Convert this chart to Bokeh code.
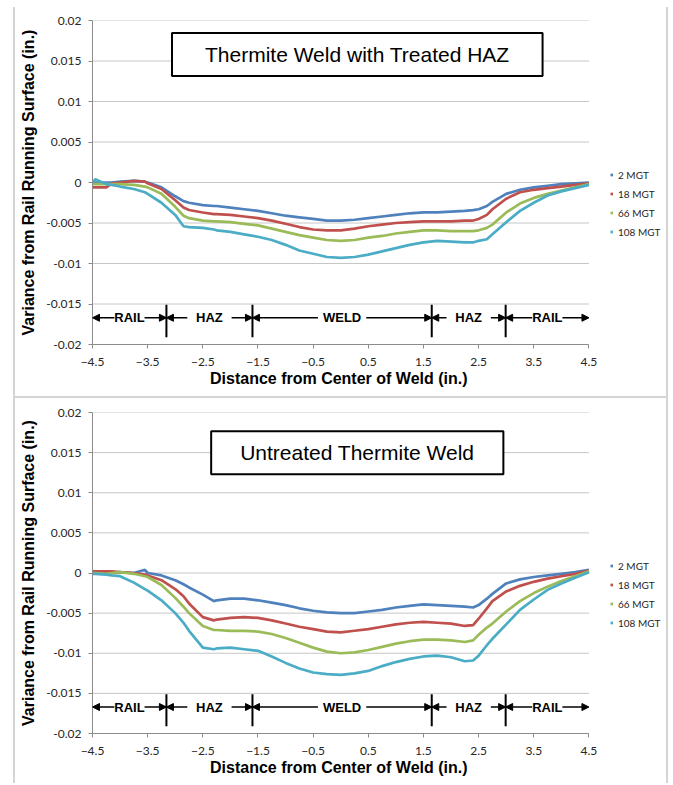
from bokeh.plotting import figure
from bokeh.models import (FixedTicker, CustomJSTickFormatter, Label, Legend, LegendItem,
                          Arrow, NormalHead, Range1d, ColumnDataSource, Title)
from bokeh.layouts import column
from bokeh.core.properties import value
from bokeh.embed import file_html
from bokeh.resources import INLINE

# ---------------- data ----------------
series_names = ["2 MGT", "18 MGT", "66 MGT", "108 MGT"]

dist = [-4.5, -4.45, -4.25, -4.15, -4.0, -3.75, -3.55, -3.5, -3.25, -3.0, -2.85, -2.75,
        -2.5, -2.3, -2.25, -2.0, -1.75, -1.5, -1.25, -1.0, -0.75, -0.5, -0.25, 0.0,
        0.25, 0.5, 0.75, 1.0, 1.25, 1.5, 1.75, 2.0, 2.25, 2.4, 2.5, 2.65, 2.75, 3.0,
        3.25, 3.5, 3.75, 4.0, 4.25, 4.5]

# Panel 1: Thermite Weld with Treated HAZ
treated_2 = [0.0, 0.0, 0.0, 0.0, 0.0001, 0.0002, 0.0001, 0.0, -0.0006, -0.0017, -0.0023, -0.0025,
             -0.0028, -0.0029, -0.0029, -0.0031, -0.0033, -0.0035, -0.0038, -0.0041, -0.0043, -0.0045, -0.0047, -0.0047,
             -0.0046, -0.0044, -0.0042, -0.0040, -0.0038, -0.0037, -0.0037, -0.0036, -0.0035, -0.0034, -0.0033, -0.0029, -0.0024, -0.0014,
             -0.0009, -0.0006, -0.0004, -0.0002, -0.0001, 0.0]
treated_18 = [-0.0006, -0.0006, -0.0006, -0.0001, 0.0, 0.0002, 0.0001, -0.0001, -0.0008, -0.0022, -0.0031, -0.0034,
              -0.0037, -0.0039, -0.0039, -0.0040, -0.0042, -0.0044, -0.0047, -0.0051, -0.0055, -0.0058, -0.0059, -0.0059,
              -0.0057, -0.0054, -0.0052, -0.0050, -0.0049, -0.0048, -0.0048, -0.0048, -0.0047, -0.0047, -0.0045, -0.0040, -0.0033, -0.0020,
              -0.0012, -0.0009, -0.0007, -0.0005, -0.0003, -0.0001]
treated_66 = [-0.0002, -0.0002, -0.0002, -0.0002, -0.0002, -0.0003, -0.0005, -0.0006, -0.0014, -0.0030, -0.0041, -0.0044,
              -0.0047, -0.0048, -0.0048, -0.0049, -0.0051, -0.0053, -0.0057, -0.0061, -0.0065, -0.0068, -0.0071, -0.0072,
              -0.0071, -0.0068, -0.0066, -0.0063, -0.0061, -0.0059, -0.0059, -0.0060, -0.0060, -0.0060, -0.0059, -0.0056, -0.0052, -0.0037,
              -0.0026, -0.0019, -0.0014, -0.0010, -0.0006, -0.0002]
treated_108 = [0.0, 0.0004, -0.0002, -0.0003, -0.0005, -0.0008, -0.0012, -0.0014, -0.0025, -0.0040, -0.0054, -0.0055,
               -0.0056, -0.0058, -0.0059, -0.0061, -0.0064, -0.0067, -0.0071, -0.0077, -0.0084, -0.0088, -0.0092, -0.0093,
               -0.0092, -0.0089, -0.0085, -0.0081, -0.0077, -0.0074, -0.0072, -0.0073, -0.0074, -0.0074, -0.0072, -0.0070, -0.0064, -0.0049,
               -0.0035, -0.0025, -0.0016, -0.0011, -0.0007, -0.0003]

# Panel 2: Untreated Thermite Weld
untreated_2 = [0.0, 0.0, 0.0, 0.0, 0.0001, 0.0, 0.0004, 0.0, -0.0003, -0.0009, -0.0014, -0.0018,
               -0.0027, -0.0035, -0.0034, -0.0032, -0.0032, -0.0034, -0.0037, -0.0040, -0.0044, -0.0047, -0.0049, -0.0050,
               -0.0050, -0.0048, -0.0046, -0.0043, -0.0041, -0.0039, -0.0040, -0.0041, -0.0042, -0.0043, -0.0040, -0.0032, -0.0026, -0.0013,
               -0.0008, -0.0005, -0.0003, -0.0001, 0.0001, 0.0004]
untreated_18 = [0.0002, 0.0002, 0.0002, 0.0002, 0.0001, 0.0, -0.0002, -0.0003, -0.0009, -0.0020, -0.0029, -0.0038,
                -0.0055, -0.0059, -0.0058, -0.0056, -0.0055, -0.0056, -0.0059, -0.0063, -0.0067, -0.0070, -0.0073, -0.0074,
                -0.0072, -0.0070, -0.0067, -0.0064, -0.0062, -0.0061, -0.0062, -0.0063, -0.0066, -0.0065, -0.0057, -0.0044, -0.0035, -0.0023,
                -0.0016, -0.0011, -0.0007, -0.0004, -0.0001, 0.0003]
untreated_66 = [0.0, 0.0, -0.0001, 0.0, 0.0001, -0.0001, -0.0004, -0.0005, -0.0015, -0.0031, -0.0042, -0.0050,
                -0.0066, -0.0071, -0.0071, -0.0072, -0.0072, -0.0073, -0.0076, -0.0081, -0.0087, -0.0093, -0.0098, -0.0100,
                -0.0099, -0.0096, -0.0092, -0.0088, -0.0085, -0.0083, -0.0083, -0.0084, -0.0086, -0.0084, -0.0077, -0.0068, -0.0063, -0.0048,
                -0.0035, -0.0025, -0.0017, -0.0010, -0.0004, 0.0002]
untreated_108 = [-0.0001, -0.0001, -0.0002, -0.0003, -0.0004, -0.0012, -0.0020, -0.0022, -0.0034, -0.0050, -0.0062, -0.0072,
                 -0.0093, -0.0095, -0.0094, -0.0093, -0.0095, -0.0097, -0.0104, -0.0112, -0.0119, -0.0124, -0.0126, -0.0127,
                 -0.0125, -0.0122, -0.0116, -0.0111, -0.0107, -0.0104, -0.0103, -0.0105, -0.0110, -0.0109, -0.0103, -0.0090, -0.0082, -0.0064,
                 -0.0046, -0.0033, -0.0021, -0.0013, -0.0006, 0.0001]

x_ticks = [-4.5, -3.5, -2.5, -1.5, -0.5, 0.5, 1.5, 2.5, 3.5, 4.5]
y_ticks = [-0.02, -0.015, -0.01, -0.005, 0.0, 0.005, 0.01, 0.015, 0.02]

zone_bounds = [-4.5, -3.16, -1.60, 1.65, 2.99, 4.5]
zone_labels = ["RAIL", "HAZ", "WELD", "HAZ", "RAIL"]
zone_level = -0.0167

titles = ["Thermite Weld with Treated HAZ", "Untreated Thermite Weld"]
x_label = "Distance from Center of Weld (in.)"
y_label = "Variance from Rail Running Surface (in.)"

# ---------------- styling / layout ----------------
COLORS = ["#4F81BD", "#C0504D", "#9BBB59", "#4BACC6"]
CONTENT_W = 651                 # canvas width inside the grey panel borders
BORDER_L, BORDER_R = 77, 2
AXIS_W = 493                    # pixel width of the -4.5 .. 4.5 axis
FRAME_W = CONTENT_W - BORDER_L - BORDER_R
X_MIN, X_MAX = x_ticks[0], x_ticks[-1]
PX_PER_UNIT = AXIS_W / (X_MAX - X_MIN)
X_END = X_MIN + FRAME_W / PX_PER_UNIT   # frame extends right to hold the legend
XLABEL_W = 258                  # rendered width of the x-axis title (16px bold)
GAP_PX = {"RAIL": 15, "HAZ": 22, "WELD": 24}
PANEL_LINE = "2px solid #d4d4d4"


def make_panel(title, ys, width, height, top, bottom, title_y, title_pad, legend_y,
               margin, styles):
    p = figure(width=width, height=height, output_backend="svg", toolbar_location=None,
               x_range=Range1d(X_MIN, X_END), y_range=Range1d(-0.02, 0.02),
               min_border_left=BORDER_L, min_border_right=BORDER_R,
               min_border_top=top, min_border_bottom=bottom,
               margin=margin, styles=styles)
    p.outline_line_color = None
    p.background_fill_color = "white"
    p.border_fill_color = "white"

    # axes
    p.xaxis.ticker = FixedTicker(ticks=x_ticks)
    p.xaxis.bounds = (X_MIN, X_MAX)
    p.yaxis.ticker = FixedTicker(ticks=y_ticks)
    p.yaxis.formatter = CustomJSTickFormatter(
        code="return tick.toFixed(3).replace(/0+$/, '').replace(/\\.$/, '');")
    for ax in (p.xaxis, p.yaxis):
        ax.axis_line_color = "#8c8c8c"
        ax.major_tick_line_color = "#8c8c8c"
        ax.major_tick_out = 4
        ax.major_tick_in = 0
        ax.minor_tick_line_color = None
        ax.major_label_text_font = "Lato"
        ax.major_label_text_font_size = "12px"
        ax.major_label_text_color = "#262626"
        ax.axis_label_text_font = "Liberation Sans"
        ax.axis_label_text_font_style = "bold"
        ax.axis_label_text_font_size = "16px"
        ax.axis_label_text_color = "black"
    p.yaxis.axis_label = y_label
    p.xaxis.major_label_standoff = 9
    p.yaxis.major_label_standoff = 7
    p.yaxis.axis_label_standoff = 6

    # x-axis title centred under the -4.5 .. 4.5 span
    p.add_layout(Title(text=x_label, align="left", offset=(AXIS_W - XLABEL_W) / 2,
                       standoff=3, vertical_align="top",
                       text_font="Liberation Sans", text_font_style="bold",
                       text_font_size="16px", text_color="black"), "below")

    # horizontal gridlines only across the -4.5 .. 4.5 span
    p.xgrid.grid_line_color = None
    p.ygrid.grid_line_color = None
    p.segment(x0=[X_MIN] * len(y_ticks), x1=[X_MAX] * len(y_ticks), y0=y_ticks, y1=y_ticks,
              line_color="#c6c6c6", line_width=1, level="underlay")

    # series
    rends = []
    for y, c in zip(ys, COLORS):
        rends.append(p.line(dist, y, line_color=c, line_width=2.7))

    # legend (tiny marker-like swatches)
    legend = Legend(items=[LegendItem(label=n, renderers=[r]) for n, r in zip(series_names, rends)],
                    location=(AXIS_W + 25, legend_y),
                    border_line_color=None, background_fill_alpha=0,
                    padding=0, margin=0, spacing=0,
                    glyph_width=3, glyph_height=19, label_height=19, label_standoff=5,
                    label_text_font="Lato", label_text_font_size="10px",
                    label_text_color="#262626")
    p.add_layout(legend)

    # zone annotations
    centers = [(zone_bounds[i] + zone_bounds[i + 1]) / 2 for i in range(len(zone_labels))]
    xs0, xs1 = [], []
    for i, lab in enumerate(zone_labels):
        g = GAP_PX[lab] / PX_PER_UNIT
        xs0 += [centers[i] - g, centers[i] + g]
        xs1 += [zone_bounds[i], zone_bounds[i + 1]]
    arr_src = ColumnDataSource(dict(x0=xs0, x1=xs1, y=[zone_level] * len(xs0)))
    p.add_layout(Arrow(end=NormalHead(size=7, fill_color="black", line_color="black"),
                       x_start="x0", y_start="y", x_end="x1", y_end="y",
                       line_color="black", line_width=1.6, source=arr_src))
    inner = zone_bounds[1:-1]
    p.segment(x0=inner, x1=inner, y0=[zone_level + 0.0016] * len(inner),
              y1=[zone_level - 0.0024] * len(inner), line_color="black", line_width=2)
    p.text(x=centers, y=[zone_level] * len(centers), text=zone_labels,
           text_align="center", text_baseline="middle",
           text_font=value("Liberation Sans"), text_font_style="bold",
           text_font_size="13px", text_color="black")

    # boxed title
    p.add_layout(Label(x=0.3, y=title_y, text=title, text_align="center",
                       text_baseline="middle", text_font="Liberation Sans",
                       text_font_size="21px", text_color="black",
                       background_fill_color="white", border_line_color="black",
                       border_line_width=2,
                       padding=dict(left=title_pad, right=title_pad, top=10, bottom=10)))
    return p


p1 = make_panel(titles[0], [treated_2, treated_18, treated_66, treated_108],
                CONTENT_W + 4, 391, 13, 54, 0.0158, 33, 103, (7, 0, 0, 13),
                {"border-left": PANEL_LINE, "border-right": PANEL_LINE,
                 "border-bottom": PANEL_LINE})
p2 = make_panel(titles[1], [untreated_2, untreated_18, untreated_66, untreated_108],
                CONTENT_W + 4, 385, 14, 50, 0.0150, 29, 101, (0, 0, 0, 13),
                {"border-left": PANEL_LINE, "border-right": PANEL_LINE})

layout = column(p1, p2, spacing=0)
open("out.html", "w").write(file_html(layout, INLINE))
